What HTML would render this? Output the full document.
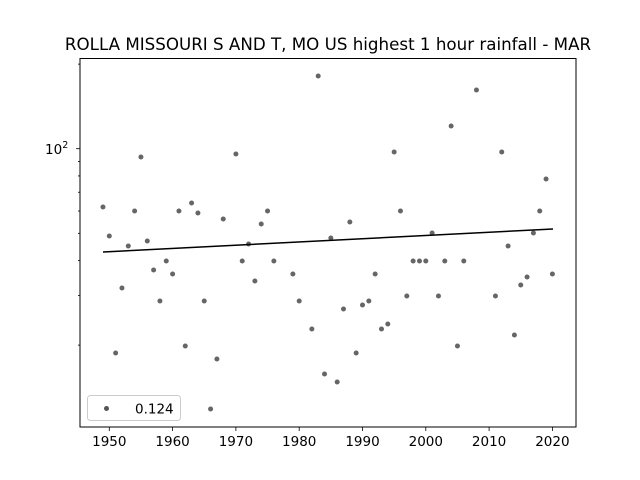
<!DOCTYPE html><html><head><style>body{margin:0;background:#fff}svg{display:block}text{font-family:"DejaVu Sans","Liberation Sans",sans-serif}</style></head><body>
<svg width="640" height="480" xmlns="http://www.w3.org/2000/svg">
<rect width="640" height="480" fill="#fff"/>
<text x="328" y="50" font-size="16.7" text-anchor="middle">ROLLA MISSOURI S AND T, MO US highest 1 hour rainfall - MAR</text>
<g id="pts" fill="#555" fill-opacity="0.9"></g>
<line x1="103" y1="252" x2="553" y2="229" stroke="#000" stroke-width="1.5"/>
<rect x="80" y="58.5" width="496" height="368.5" fill="none" stroke="#000" stroke-width="1"/>
<g stroke="#000" stroke-width="0.8" id="ticks"></g>
<g font-size="13.5" text-anchor="middle" id="xl"></g>
<text x="45" y="154" font-size="13.5">10<tspan dy="-6" font-size="9.5">2</tspan></text>
<rect x="87.5" y="395.5" width="93" height="25" rx="3" fill="#fff" stroke="#ccc"/>
<circle cx="106.5" cy="408.5" r="2.5" fill="#555"/>
<text x="135" y="413.5" font-size="13.5">0.124</text>
</svg>
<script>
var d=[[1949,207],[1950,236],[1951,353],[1952,288],[1953,246],[1954,211],[1955,157],[1956,241],[1957,270],[1958,301],[1959,261],[1960,274],[1961,211],[1962,346],[1963,203],[1964,213],[1965,301],[1966,409],[1967,359],[1968,219],[1970,154],[1971,261],[1972,244],[1973,281],[1974,224],[1975,211],[1976,261],[1979,274],[1980,301],[1982,329],[1983,76],[1984,374],[1985,238],[1986,382],[1987,309],[1988,222],[1989,353],[1990,305],[1991,301],[1992,274],[1993,329],[1994,324],[1995,152],[1996,211],[1997,296],[1998,261],[1999,261],[2000,261],[2001,233],[2002,296],[2003,261],[2004,126],[2005,346],[2006,261],[2008,90],[2011,296],[2012,152],[2013,246],[2014,335],[2015,285],[2016,277],[2017,233],[2018,211],[2019,179],[2020,274]];
var ns="http://www.w3.org/2000/svg",X=function(y){return 109.3+(y-1950)*6.33};
var p=document.getElementById('pts');d.forEach(function(a){var c=document.createElementNS(ns,'circle');c.setAttribute('cx',X(a[0]));c.setAttribute('cy',a[1]);c.setAttribute('r',2.5);p.appendChild(c)});
var t=document.getElementById('ticks'),xl=document.getElementById('xl');
function L(x1,y1,x2,y2){var l=document.createElementNS(ns,'line');l.setAttribute('x1',x1);l.setAttribute('y1',y1);l.setAttribute('x2',x2);l.setAttribute('y2',y2);t.appendChild(l)}
for(var y=1950;y<=2020;y+=10){var x=X(y);L(x,427,x,431);var s=document.createElementNS(ns,'text');s.setAttribute('x',x);s.setAttribute('y',446);s.textContent=y;xl.appendChild(s)}
L(80,148.7,76,148.7);
[20,30,40,50,60,70,80,90,200].forEach(function(v){var yy=148.7-281*Math.log10(v/100);L(80,yy,78,yy)});
</script>
</body></html>
